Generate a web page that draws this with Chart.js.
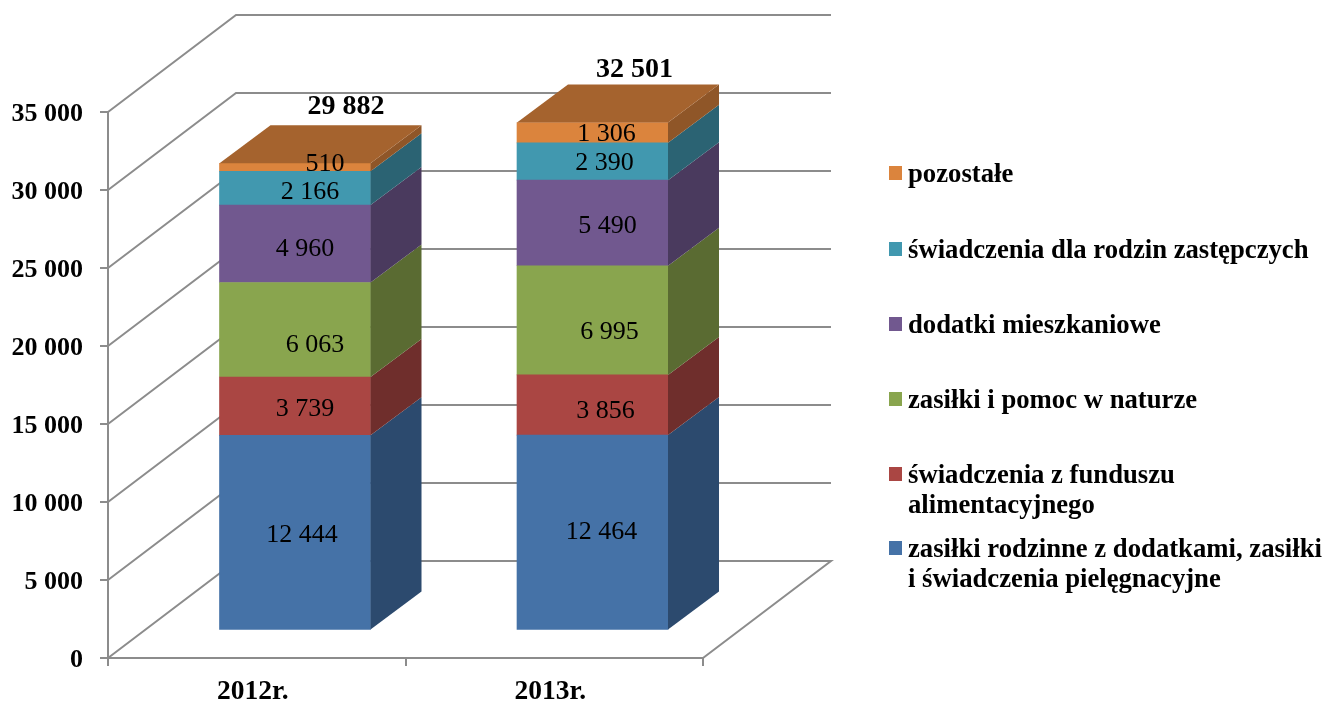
<!DOCTYPE html>
<html lang="pl">
<head>
<meta charset="utf-8">
<title>Wydatki na świadczenia</title>
<script src="https://cdn.jsdelivr.net/npm/chart.js@4"></script>
<style>
  html, body { margin: 0; padding: 0; background: #fff; }
  canvas { display: block; }
</style>
</head>
<body>
<canvas id="myChart" width="1326" height="701"></canvas>
<script>
const categories = ['2012r.', '2013r.'];
const seriesNames = [
    'zasiłki rodzinne z dodatkami, zasiłki\ni świadczenia pielęgnacyjne',
    'świadczenia z funduszu\nalimentacyjnego',
    'zasiłki i pomoc w naturze',
    'dodatki mieszkaniowe',
    'świadczenia dla rodzin zastępczych',
    'pozostałe'
];
const rodzinne = [12444, 12464];
const alimentacyjny = [3739, 3856];
const naturze = [6063, 6995];
const mieszkaniowe = [4960, 5490];
const zastepcze = [2166, 2390];
const pozostale = [510, 1306];
const totals = [29882, 32501];
const yTicks = [0, 5000, 10000, 15000, 20000, 25000, 30000, 35000];

const frontColors = ['#4572A7', '#AA4643', '#89A54E', '#71588F', '#4198AF', '#DB843D'];
const sideColors = ['#2C4A6E', '#6F2E2C', '#5A6B32', '#4A3A5E', '#2B6373', '#8F5628'];
const topColor = '#A5632E';
const gridColor = '#8C8C8C';
const serif = '"Liberation Serif", serif';

// the walls go back this far from the axis, the bars less
const wallDepth = { x: 128, y: -97 };
const barDepth = { x: 51, y: -38 };

// small shifts of the value labels, by series then category, as in the original
const labelNudge = [
    [[7, 3], [9, 0]],
    [[10, 3], [13, 6]],
    [[20, 15], [17, 12]],
    [[10, 5], [15, 3]],
    [[15, 4], [12, 2]],
    [[30, -3], [14, 2]]
];
const totalNudge = [[51, -19], [42, -15]];
const legendRows = [
    [550, 580], [476, 506], [401], [326], [251], [175]
];

function fmt(n) {
    return String(n).replace(/\B(?=(\d{3})+$)/g, ' ');
}

function poly(c, color, pts) {
    c.fillStyle = color;
    c.beginPath();
    pts.forEach((p, i) => i ? c.lineTo(p[0], p[1]) : c.moveTo(p[0], p[1]));
    c.closePath();
    c.fill();
}

// back wall, side wall and floor lines
const wallsPlugin = {
    id: 'walls',
    beforeDatasetsDraw(chart) {
        const c = chart.ctx;
        const y = chart.scales.y;
        const x = chart.scales.x;
        c.save();
        c.strokeStyle = gridColor;
        c.lineWidth = 2;
        yTicks.forEach((t) => {
            const py = y.getPixelForValue(t);
            c.beginPath();
            c.moveTo(x.left, py);
            c.lineTo(x.left + wallDepth.x, py + wallDepth.y);
            c.lineTo(x.right + wallDepth.x, py + wallDepth.y);
            if (t === 0) c.lineTo(x.right, py);
            c.stroke();
        });
        c.restore();
    }
};

// right side and top of every bar
const bars3dPlugin = {
    id: 'bars3d',
    afterDatasetsDraw(chart) {
        const c = chart.ctx;
        const last = chart.data.datasets.length - 1;
        c.save();
        chart.data.datasets.forEach((ds, d) => {
            chart.getDatasetMeta(d).data.forEach((bar) => {
                const r = bar.x + bar.width / 2;
                const l = bar.x - bar.width / 2;
                poly(c, sideColors[d], [
                    [r, bar.base], [r + barDepth.x, bar.base + barDepth.y],
                    [r + barDepth.x, bar.y + barDepth.y], [r, bar.y]
                ]);
                if (d === last) {
                    poly(c, topColor, [
                        [l, bar.y], [r, bar.y],
                        [r + barDepth.x, bar.y + barDepth.y], [l + barDepth.x, bar.y + barDepth.y]
                    ]);
                }
            });
        });
        c.restore();
    }
};

const labelsPlugin = {
    id: 'valueLabels',
    afterDatasetsDraw(chart) {
        const c = chart.ctx;
        c.save();
        c.fillStyle = '#000';
        c.textAlign = 'center';
        c.textBaseline = 'middle';
        c.font = '26px ' + serif;
        chart.data.datasets.forEach((ds, d) => {
            chart.getDatasetMeta(d).data.forEach((bar, i) => {
                const n = labelNudge[d][i];
                c.fillText(fmt(ds.data[i].y), bar.x + n[0], (bar.y + bar.base) / 2 + n[1]);
            });
        });
        c.font = 'bold 28px ' + serif;
        const top = chart.getDatasetMeta(chart.data.datasets.length - 1).data;
        totals.forEach((v, i) => {
            c.fillText(fmt(v), top[i].x + totalNudge[i][0], top[i].y + barDepth.y + totalNudge[i][1]);
        });
        c.restore();
    }
};

const sideLegendPlugin = {
    id: 'sideLegend',
    afterDraw(chart) {
        const c = chart.ctx;
        c.save();
        c.textBaseline = 'middle';
        c.textAlign = 'left';
        c.font = 'bold 26.7px ' + serif;
        chart.data.datasets.forEach((ds, d) => {
            const rows = legendRows[d];
            c.fillStyle = ds.backgroundColor;
            c.fillRect(889, rows[0] - 9, 13, 14);
            c.fillStyle = '#000';
            ds.label.split('\n').forEach((line, i) => c.fillText(line, 908, rows[i]));
        });
        c.restore();
    }
};

function series(values, idx) {
    return {
        label: seriesNames[idx],
        data: values.map((v, i) => ({ x: i, y: v })),
        backgroundColor: frontColors[idx],
        borderWidth: 0,
        xAxisID: 'xBar',
        yAxisID: 'yBar',
        barThickness: 151
    };
}

const ctx = document.getElementById('myChart').getContext('2d');

new Chart(ctx, {
    type: 'bar',
    data: {
        labels: categories,
        datasets: [
            series(rodzinne, 0),
            series(alimentacyjny, 1),
            series(naturze, 2),
            series(mieszkaniowe, 3),
            series(zastepcze, 4),
            series(pozostale, 5)
        ]
    },
    options: {
        responsive: false,
        animation: false,
        layout: { padding: { top: 112, right: 623, left: 0, bottom: 0 } },
        plugins: { legend: { display: false }, tooltip: { enabled: false } },
        scales: {
            x: {
                type: 'category',
                position: 'bottom',
                offset: true,
                afterFit(s) { s.height = 43; },
                border: { color: gridColor, width: 2 },
                grid: { offset: true, drawOnChartArea: false, color: gridColor, lineWidth: 2, tickLength: 8 },
                ticks: { color: '#000', padding: 9, maxRotation: 0, labelOffset: -4, font: { family: serif, size: 27.5, weight: 'bold' } }
            },
            y: {
                type: 'linear',
                position: 'left',
                min: 0,
                max: 35000,
                afterFit(s) { s.width = 108; },
                border: { color: gridColor, width: 2 },
                grid: { drawOnChartArea: false, color: gridColor, lineWidth: 2, tickLength: 8 },
                ticks: {
                    stepSize: 5000,
                    padding: 17,
                    labelOffset: 2,
                    color: '#000',
                    font: { family: serif, size: 26, weight: 'bold' },
                    callback: (v) => fmt(v)
                }
            },
            // the bars stand in the middle of the floor, so their scales are moved in from the axes
            xBar: { type: 'linear', display: false, stacked: true, offset: false, min: -0.6286, max: 1.3714 },
            yBar: { type: 'linear', display: false, stacked: true, min: -1827, max: 33173 }
        }
    },
    plugins: [wallsPlugin, bars3dPlugin, labelsPlugin, sideLegendPlugin]
});
</script>
</body>
</html>
